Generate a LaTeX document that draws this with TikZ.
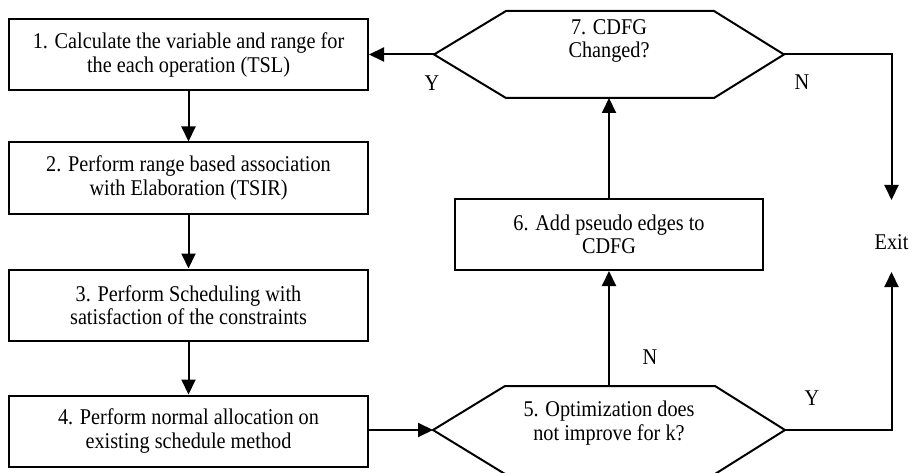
\documentclass[tikz,border=0pt]{standalone}
\usepackage{fontspec}
\setmainfont[FakeStretch=0.9]{Liberation Serif}
\usetikzlibrary{arrows.meta}
\begin{document}
\begin{tikzpicture}[x=1pt,y=-1pt,
  every node/.style={font=\fontsize{22.5}{23.5}\selectfont},
  stepbox/.style={draw, line width=2pt, minimum width=359, minimum height=71, align=center, inner sep=0pt},
  hexbox/.style={draw=none, outer sep=0pt, inner sep=0pt},
  hexline/.style={line width=2pt, line join=miter},
  txt/.style={align=center, inner sep=0pt},
  conn/.style={line width=2pt, -{Triangle[length=15pt,width=14pt]}}
]
\useasboundingbox (0,0) rectangle (912,473);

% left column
\node[stepbox] (b1) at (188.5,55) {1. Calculate the variable and range for\\the each operation (TSL)};
\node[stepbox] (b2) at (188.5,178) {2. Perform range based association\\with Elaboration (TSIR)};
\node[stepbox] (b3) at (188.5,305) {3. Perform Scheduling with\\satisfaction of the constraints};
\node[stepbox] (b4) at (188.5,431) {4. Perform normal allocation on\\existing schedule method};

% right column
\node[stepbox, minimum width=308] (b6) at (609,234.5) {6. Add pseudo edges to\\CDFG};

\node[hexbox, minimum width=350, minimum height=87] (n7) at (609,54.5) {};
\draw[hexline] (n7.west) -- ([xshift=72pt]n7.north west) -- ([xshift=-70pt]n7.north east)
  -- (n7.east) -- ([xshift=-70pt]n7.south east) -- ([xshift=72pt]n7.south west) -- cycle;
\node[txt] (t7) at (609,41) {7. CDFG\\Changed?};

\node[hexbox, minimum width=352, minimum height=88] (n5) at (609,430) {};
\draw[hexline] (n5.west) -- ([xshift=72pt]n5.north west) -- ([xshift=-70pt]n5.north east)
  -- (n5.east) -- ([xshift=-70pt]n5.south east) -- ([xshift=72pt]n5.south west) -- cycle;
\node[txt] (t5) at (609,423) {5. Optimization does\\not improve for k?};

\node[txt] (exit) at (891.5,242) {Exit};

% connectors
\draw[conn] (b1.south) -- (b2.north);
\draw[conn] (b2.south) -- (b3.north);
\draw[conn] (b3.south) -- (b4.north);
\draw[conn] (n5.west -| b4.east) -- (n5.west);
\draw[conn] (n5.north) -- (b6.south);
\draw[conn] (b6.north) -- (n7.south);
\draw[conn] (n7.west) -- (n7.west -| b1.east);
\draw[conn] (n7.east) -| ([yshift=42pt]exit.center);
\draw[conn] (n5.east) -| ([yshift=-30pt]exit.center);

% labels
\node[txt] (lY1) at (432,83) {Y};
\node[txt] (lN1) at (802,82) {N};
\node[txt] (lN2) at (650,357) {N};
\node[txt] (lY2) at (812,398) {Y};
\end{tikzpicture}
\end{document}
